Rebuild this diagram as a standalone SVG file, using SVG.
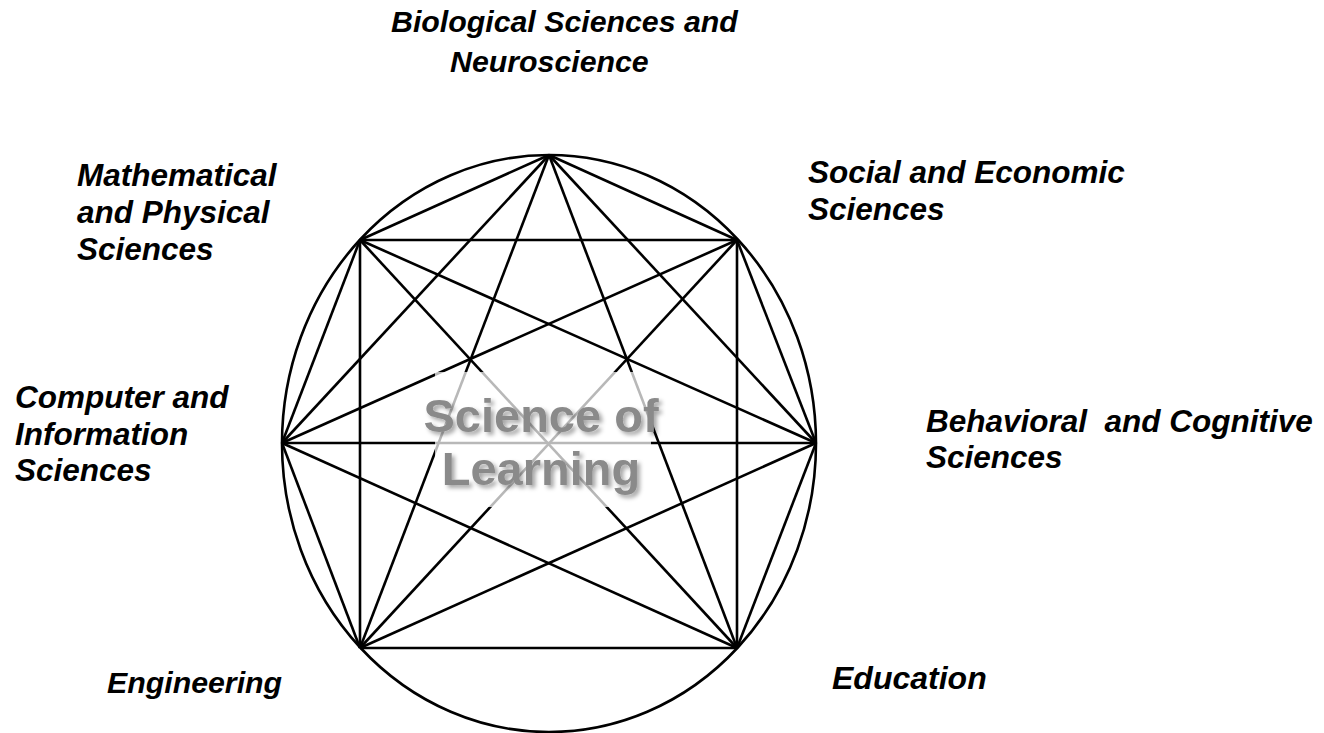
<svg xmlns="http://www.w3.org/2000/svg" width="1324" height="733" viewBox="0 0 1324 733">
<defs>
<style>
.lbl{font-family:"Liberation Sans",Arial,sans-serif;font-weight:bold;font-style:italic;font-size:31.5px;fill:#000;white-space:pre}
.edge{stroke:#000;stroke-width:2.6;fill:none}
.title{font-family:"Liberation Sans",Arial,sans-serif;font-weight:bold;font-size:47px;fill:#8a8a8a;text-anchor:middle}
</style>
<filter id="sh" x="-10%" y="-20%" width="130%" height="150%">
<feDropShadow dx="3" dy="3" stdDeviation="2" flood-color="#000" flood-opacity="0.35"/>
</filter>
</defs>
<rect width="1324" height="733" fill="#fff"/>
<g id="frame">
<ellipse cx="549" cy="443.5" rx="267" ry="288.5" class="edge"/>
</g>
<g id="connectors">
<line class="edge" x1="549" y1="155" x2="360" y2="240"/>
<line class="edge" x1="549" y1="155" x2="737" y2="240"/>
<line class="edge" x1="549" y1="155" x2="282" y2="443"/>
<line class="edge" x1="549" y1="155" x2="816" y2="443"/>
<line class="edge" x1="549" y1="155" x2="360" y2="648"/>
<line class="edge" x1="549" y1="155" x2="737" y2="648"/>
<line class="edge" x1="360" y1="240" x2="737" y2="240"/>
<line class="edge" x1="360" y1="240" x2="282" y2="443"/>
<line class="edge" x1="360" y1="240" x2="816" y2="443"/>
<line class="edge" x1="360" y1="240" x2="360" y2="648"/>
<line class="edge" x1="360" y1="240" x2="737" y2="648"/>
<line class="edge" x1="737" y1="240" x2="282" y2="443"/>
<line class="edge" x1="737" y1="240" x2="816" y2="443"/>
<line class="edge" x1="737" y1="240" x2="360" y2="648"/>
<line class="edge" x1="737" y1="240" x2="737" y2="648"/>
<line class="edge" x1="282" y1="443" x2="816" y2="443"/>
<line class="edge" x1="282" y1="443" x2="360" y2="648"/>
<line class="edge" x1="282" y1="443" x2="737" y2="648"/>
<line class="edge" x1="816" y1="443" x2="360" y2="648"/>
<line class="edge" x1="816" y1="443" x2="737" y2="648"/>
<line class="edge" x1="360" y1="648" x2="737" y2="648"/>
</g>
<g id="center">
<rect x="435" y="372" width="216" height="135" fill="#fff" fill-opacity="0.72"/>
<g filter="url(#sh)">
<text class="title" x="541" y="432">Science of</text>
<text class="title" x="541" y="485">Learning</text>
</g>
</g>
<g id="bio"><text class="lbl" x="391" y="32" style="font-size:30.3px">Biological Sciences and</text><text class="lbl" x="450" y="72" style="font-size:30.3px">Neuroscience</text></g>
<g id="math"><text class="lbl" x="77" y="186">Mathematical</text><text class="lbl" x="77" y="223">and Physical</text><text class="lbl" x="77" y="260">Sciences</text></g>
<g id="social"><text class="lbl" x="808" y="183">Social and Economic</text><text class="lbl" x="808" y="220">Sciences</text></g>
<g id="computer"><text class="lbl" x="15" y="408">Computer and</text><text class="lbl" x="15" y="445">Information</text><text class="lbl" x="15" y="481">Sciences</text></g>
<g id="behavioral"><text class="lbl" x="926" y="432">Behavioral  and Cognitive</text><text class="lbl" x="926" y="468">Sciences</text></g>
<g id="engineering"><text class="lbl" x="107" y="693" style="font-size:30.3px">Engineering</text></g>
<g id="education"><text class="lbl" x="832" y="689" style="font-size:32px">Education</text></g>
</svg>
